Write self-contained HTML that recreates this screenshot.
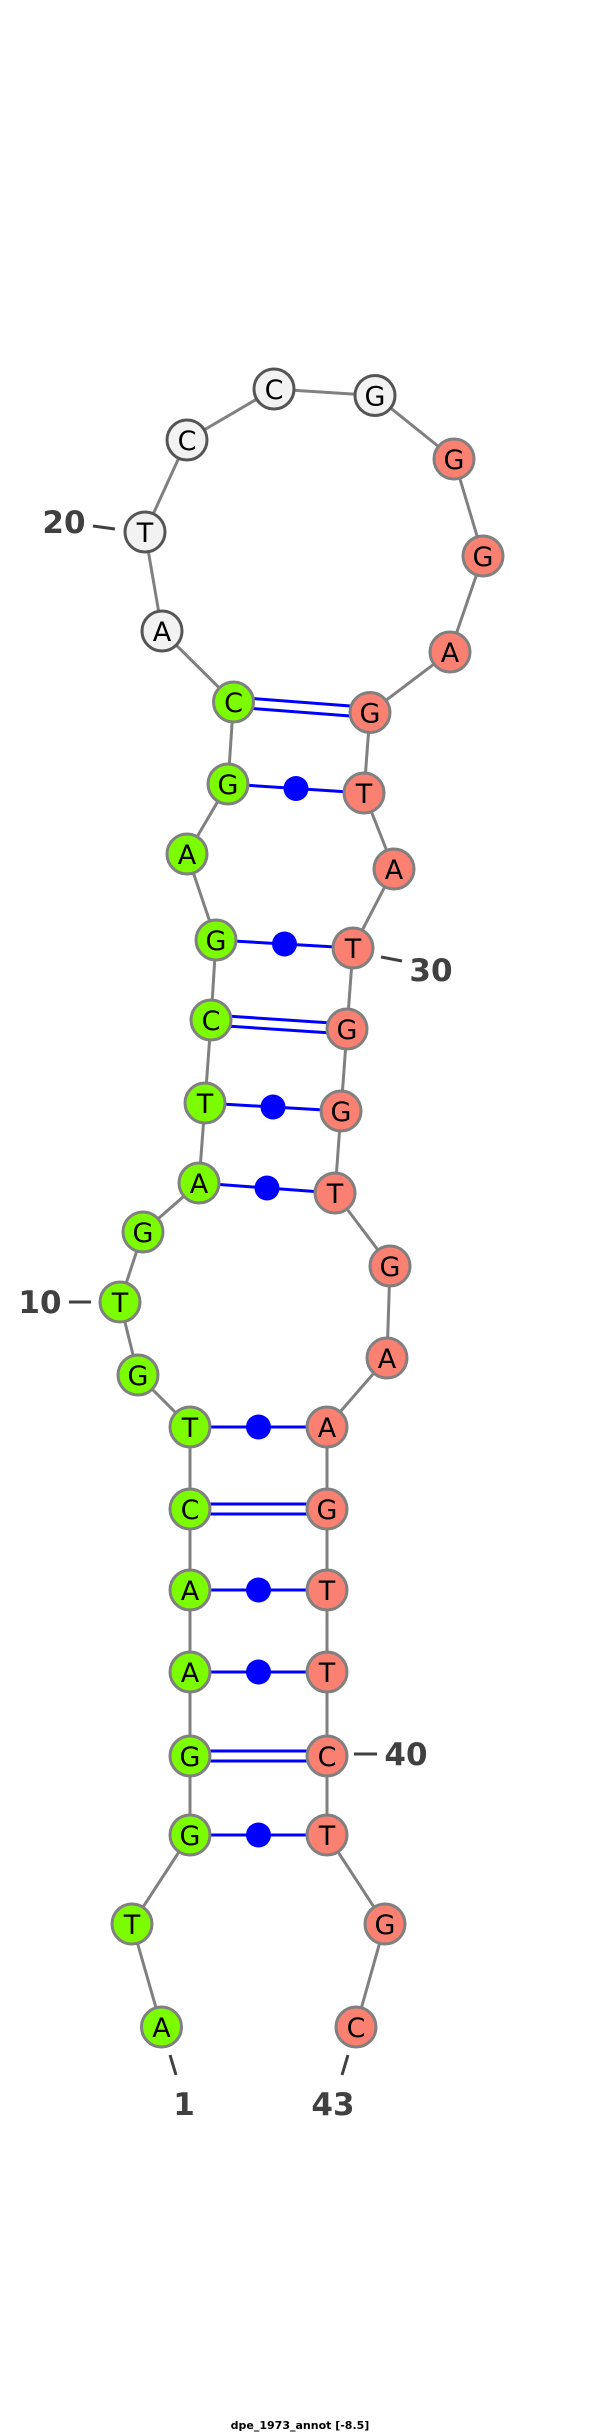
<!DOCTYPE html>
<html><head><meta charset="utf-8"><style>html,body{margin:0;padding:0;background:#fff}svg{display:block}</style></head>
<body>
<svg width="600" height="2434" viewBox="0 0 600 2434" xmlns="http://www.w3.org/2000/svg">
<g stroke="#808080" stroke-width="3" fill="none">
<polyline points="161.5,2027 132,1924 190,1835 190,1756 190,1672 190,1590 190,1509 190,1427 138,1375 120,1302 143,1232 199,1183 205,1103 211,1020 216,940 187,854 228,784 233.5,702 162,631 145,532 187,440 274,389 375,395.5 454,459 483,556 450,652 370,712.5 364,793 394,869 353,948 347,1029 341,1111 335,1193 390,1266 387,1358 327,1427 327,1509 327,1590 327,1672 327,1756 327,1835 385,1924 356,2027"/>
</g>
<g stroke="#0000ff" stroke-width="3" fill="none">
<line x1="233.5" y1="697" x2="370" y2="707.5"/><line x1="233.5" y1="707" x2="370" y2="717.5"/>
<line x1="211" y1="1015" x2="347" y2="1024"/><line x1="211" y1="1025" x2="347" y2="1034"/>
<line x1="190" y1="1504" x2="327" y2="1504"/><line x1="190" y1="1514" x2="327" y2="1514"/>
<line x1="190" y1="1751" x2="327" y2="1751"/><line x1="190" y1="1761" x2="327" y2="1761"/>
<line x1="228" y1="784" x2="364" y2="793"/>
<line x1="216" y1="940" x2="353" y2="948"/>
<line x1="205" y1="1103" x2="341" y2="1111"/>
<line x1="199" y1="1183" x2="335" y2="1193"/>
<line x1="190" y1="1427" x2="327" y2="1427"/>
<line x1="190" y1="1590" x2="327" y2="1590"/>
<line x1="190" y1="1672" x2="327" y2="1672"/>
<line x1="190" y1="1835" x2="327" y2="1835"/>
</g>
<g fill="#0000ff">
<circle cx="296" cy="788.5" r="12.5"/><circle cx="284.5" cy="944" r="12.5"/>
<circle cx="273" cy="1107" r="12.5"/><circle cx="267" cy="1188" r="12.5"/>
<circle cx="258.5" cy="1427" r="12.5"/><circle cx="258.5" cy="1590" r="12.5"/>
<circle cx="258.5" cy="1672" r="12.5"/><circle cx="258.5" cy="1835" r="12.5"/>
</g>
<g stroke-width="3" font-family="'DejaVu Sans','Liberation Sans',sans-serif" font-size="27" text-anchor="middle">
<g stroke="#808080" fill="#7cfc00">
<circle cx="161.5" cy="2027" r="20"/><circle cx="132" cy="1924" r="20"/><circle cx="190" cy="1835" r="20"/><circle cx="190" cy="1756" r="20"/><circle cx="190" cy="1672" r="20"/><circle cx="190" cy="1590" r="20"/><circle cx="190" cy="1509" r="20"/><circle cx="190" cy="1427" r="20"/><circle cx="138" cy="1375" r="20"/><circle cx="120" cy="1302" r="20"/><circle cx="143" cy="1232" r="20"/><circle cx="199" cy="1183" r="20"/><circle cx="205" cy="1103" r="20"/><circle cx="211" cy="1020" r="20"/><circle cx="216" cy="940" r="20"/><circle cx="187" cy="854" r="20"/><circle cx="228" cy="784" r="20"/><circle cx="233.5" cy="702" r="20"/>
</g>
<g stroke="#555" fill="#f2f2f2">
<circle cx="162" cy="631" r="20"/><circle cx="145" cy="532" r="20"/><circle cx="187" cy="440" r="20"/><circle cx="274" cy="389" r="20"/><circle cx="375" cy="395.5" r="20"/>
</g>
<g stroke="#808080" fill="#fa8072">
<circle cx="454" cy="459" r="20"/><circle cx="483" cy="556" r="20"/><circle cx="450" cy="652" r="20"/><circle cx="370" cy="712.5" r="20"/><circle cx="364" cy="793" r="20"/><circle cx="394" cy="869" r="20"/><circle cx="353" cy="948" r="20"/><circle cx="347" cy="1029" r="20"/><circle cx="341" cy="1111" r="20"/><circle cx="335" cy="1193" r="20"/><circle cx="390" cy="1266" r="20"/><circle cx="387" cy="1358" r="20"/><circle cx="327" cy="1427" r="20"/><circle cx="327" cy="1509" r="20"/><circle cx="327" cy="1590" r="20"/><circle cx="327" cy="1672" r="20"/><circle cx="327" cy="1756" r="20"/><circle cx="327" cy="1835" r="20"/><circle cx="385" cy="1924" r="20"/><circle cx="356" cy="2027" r="20"/>
</g>
<g fill="#000" stroke="none">
<text x="161.5" y="2037">A</text><text x="132" y="1934">T</text><text x="190" y="1845">G</text><text x="190" y="1766">G</text><text x="190" y="1682">A</text><text x="190" y="1600">A</text><text x="190" y="1519">C</text><text x="190" y="1437">T</text><text x="138" y="1385">G</text><text x="120" y="1312">T</text><text x="143" y="1242">G</text><text x="199" y="1193">A</text><text x="205" y="1113">T</text><text x="211" y="1030">C</text><text x="216" y="950">G</text><text x="187" y="864">A</text><text x="228" y="794">G</text><text x="233.5" y="712">C</text>
<text x="162" y="641">A</text><text x="145" y="542">T</text><text x="187" y="450">C</text><text x="274" y="399">C</text><text x="375" y="405.5">G</text>
<text x="454" y="469">G</text><text x="483" y="566">G</text><text x="450" y="662">A</text><text x="370" y="722.5">G</text><text x="364" y="803">T</text><text x="394" y="879">A</text><text x="353" y="958">T</text><text x="347" y="1039">G</text><text x="341" y="1121">G</text><text x="335" y="1203">T</text><text x="390" y="1276">G</text><text x="387" y="1368">A</text><text x="327" y="1437">A</text><text x="327" y="1519">G</text><text x="327" y="1600">T</text><text x="327" y="1682">T</text><text x="327" y="1766">C</text><text x="327" y="1845">T</text><text x="385" y="1934">G</text><text x="356" y="2037">C</text>
</g>
</g>
<g stroke="#404040" stroke-width="3">
<line x1="93" y1="526" x2="115" y2="529"/>
<line x1="381" y1="957" x2="402" y2="961"/>
<line x1="69" y1="1302" x2="91" y2="1302"/>
<line x1="354" y1="1754" x2="377" y2="1754"/>
<line x1="170" y1="2055" x2="176" y2="2075"/>
<line x1="348" y1="2055" x2="342" y2="2075"/>
</g>
<g fill="#404040" font-family="'DejaVu Sans','Liberation Sans',sans-serif" font-weight="bold" font-size="31" text-anchor="middle">
<text x="64" y="533">20</text>
<text x="431" y="981">30</text>
<text x="40" y="1313">10</text>
<text x="406" y="1765">40</text>
<text x="184" y="2115">1</text>
<text x="333" y="2115">43</text>
</g>
<text x="300" y="2429" font-family="'DejaVu Sans','Liberation Sans',sans-serif" font-weight="bold" font-size="11" text-anchor="middle" fill="#000">dpe_1973_annot [-8.5]</text>
</svg>
</body></html>
